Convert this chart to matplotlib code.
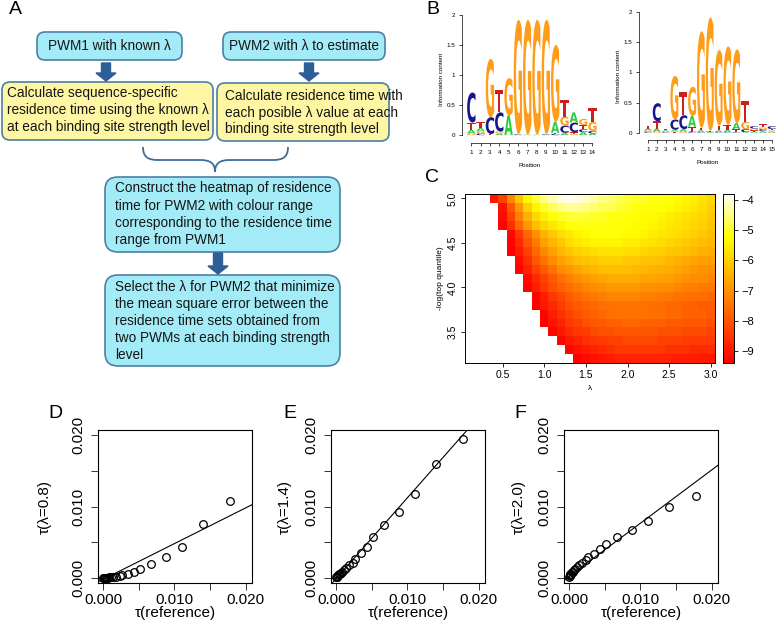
import numpy as np
import matplotlib
matplotlib.use('Agg')
import matplotlib.pyplot as plt
from matplotlib.patches import FancyBboxPatch, FancyArrow, PathPatch
from matplotlib.path import Path
from matplotlib.textpath import TextPath
from matplotlib.font_manager import FontProperties
from matplotlib.transforms import Affine2D
from matplotlib.colors import ListedColormap, hsv_to_rgb

W, H = 777, 632
nan = np.nan

# ---- panel B: sequence logos (information content per letter) ----
logo1_A = [0.06, 0.05, 0.00, 0.03, 0.33, 0.01, 0.01, 0.01, 0.01, 0.18, 0.04, 0.17, 0.05, 0.03]
logo1_C = [0.50, 0.03, 0.28, 0.32, 0.00, 0.01, 0.00, 0.00, 0.01, 0.02, 0.12, 0.16, 0.05, 0.04]
logo1_G = [0.03, 0.04, 0.97, 0.03, 0.62, 1.90, 1.91, 1.91, 1.90, 1.28, 0.15, 0.02, 0.10, 0.15]
logo1_T = [0.12, 0.10, 0.02, 0.38, 0.00, 0.00, 0.00, 0.00, 0.00, 0.02, 0.27, 0.03, 0.07, 0.23]

logo2_A = [0.03, 0.05, 0.02, 0.03, 0.04, 0.18, 0.03, 0.01, 0.03, 0.04, 0.10, 0.01, 0.02, 0.03, 0.02]
logo2_C = [0.02, 0.30, 0.01, 0.17, 0.23, 0.02, 0.01, 0.01, 0.01, 0.01, 0.01, 0.05, 0.04, 0.03, 0.05]
logo2_G = [0.02, 0.02, 0.01, 0.72, 0.02, 0.48, 1.60, 1.88, 1.25, 1.30, 1.22, 0.12, 0.03, 0.03, 0.02]
logo2_T = [0.05, 0.12, 0.02, 0.02, 0.38, 0.08, 0.04, 0.01, 0.08, 0.08, 0.05, 0.35, 0.02, 0.05, 0.02]

# ---- panel C: heatmap of log residence time, rows from -log q = 5.0 down to 3.2 ----
lam_grid = [round(0.1 * k, 1) for k in range(1, 31)]
q_grid = [5.0, 4.9, 4.8, 4.7, 4.6, 4.5, 4.4, 4.3, 4.2, 4.1, 4.0, 3.9, 3.8, 3.7, 3.6, 3.5, 3.4, 3.3, 3.2]
heat = [
    [nan]*3 + [-9.0, -8.3, -7.2, -6.2, -5.4, -4.9, -4.5, -4.2, -4.0, -3.9, -4.0, -4.1, -4.3, -4.5, -4.6, -4.8, -4.9, -5.0, -5.0, -5.1, -5.1, -5.2, -5.3, -5.4, -5.5, -5.7, -5.9],
    [nan]*4 + [-9.1, -8.0, -6.9, -6.0, -5.4, -5.0, -4.7, -4.5, -4.4, -4.4, -4.5, -4.6, -4.7, -4.8, -4.9, -5.0, -5.1, -5.1, -5.2, -5.2, -5.3, -5.4, -5.5, -5.6, -5.8, -6.0],
    [nan]*4 + [-9.2, -8.3, -7.3, -6.5, -5.9, -5.5, -5.2, -5.0, -4.9, -4.9, -4.9, -5.0, -5.0, -5.1, -5.1, -5.2, -5.2, -5.3, -5.3, -5.4, -5.5, -5.6, -5.7, -5.8, -5.9, -6.1],
    [nan]*4 + [-9.3, -8.6, -7.7, -6.9, -6.3, -5.9, -5.6, -5.4, -5.2, -5.1, -5.1, -5.1, -5.1, -5.1, -5.2, -5.2, -5.3, -5.3, -5.4, -5.5, -5.6, -5.7, -5.8, -5.9, -6.0, -6.2],
    [nan]*5 + [-9.2, -8.5, -7.7, -7.0, -6.5, -6.1, -5.8, -5.6, -5.4, -5.3, -5.2, -5.2, -5.2, -5.2, -5.3, -5.3, -5.4, -5.5, -5.6, -5.7, -5.8, -5.9, -6.0, -6.1, -6.3],
    [nan]*5 + [-9.3, -8.7, -8.0, -7.4, -6.8, -6.4, -6.1, -5.8, -5.6, -5.5, -5.4, -5.4, -5.4, -5.4, -5.5, -5.5, -5.6, -5.7, -5.8, -5.9, -6.0, -6.1, -6.2, -6.3, -6.4],
    [nan]*5 + [-9.4, -8.9, -8.3, -7.7, -7.2, -6.8, -6.4, -6.2, -6.0, -5.9, -5.8, -5.7, -5.7, -5.7, -5.8, -5.8, -5.9, -6.0, -6.0, -6.1, -6.2, -6.3, -6.4, -6.5, -6.6],
    [nan]*6 + [-9.2, -8.6, -8.0, -7.5, -7.1, -6.8, -6.5, -6.3, -6.2, -6.1, -6.0, -6.0, -6.0, -6.1, -6.1, -6.2, -6.2, -6.3, -6.4, -6.5, -6.6, -6.7, -6.8, -6.8],
    [nan]*6 + [-9.3, -8.8, -8.3, -7.9, -7.5, -7.1, -6.9, -6.7, -6.5, -6.4, -6.3, -6.3, -6.3, -6.3, -6.4, -6.4, -6.5, -6.5, -6.6, -6.7, -6.8, -6.9, -7.0, -7.0],
    [nan]*7 + [-9.2, -8.7, -8.3, -7.9, -7.6, -7.3, -7.1, -6.9, -6.8, -6.7, -6.6, -6.6, -6.6, -6.6, -6.7, -6.7, -6.8, -6.8, -6.9, -7.0, -7.1, -7.1, -7.2],
    [nan]*7 + [-9.3, -8.9, -8.5, -8.1, -7.8, -7.6, -7.4, -7.2, -7.1, -7.0, -6.9, -6.9, -6.9, -6.9, -7.0, -7.0, -7.1, -7.1, -7.2, -7.3, -7.3, -7.4, -7.4],
    [nan]*8 + [-9.3, -8.9, -8.5, -8.2, -7.9, -7.7, -7.5, -7.4, -7.3, -7.2, -7.2, -7.2, -7.2, -7.3, -7.3, -7.4, -7.4, -7.5, -7.5, -7.6, -7.6, -7.7],
    [nan]*8 + [-9.4, -9.0, -8.7, -8.4, -8.1, -7.9, -7.8, -7.7, -7.6, -7.5, -7.5, -7.5, -7.5, -7.5, -7.6, -7.6, -7.7, -7.7, -7.8, -7.8, -7.9, -7.9],
    [nan]*9 + [-9.3, -8.9, -8.6, -8.3, -8.1, -7.9, -7.8, -7.7, -7.6, -7.5, -7.5, -7.5, -7.5, -7.6, -7.6, -7.7, -7.7, -7.8, -7.8, -7.8, -7.9],
    [nan]*9 + [-9.4, -9.1, -8.8, -8.5, -8.3, -8.1, -8.0, -7.9, -7.8, -7.8, -7.7, -7.7, -7.8, -7.8, -7.8, -7.9, -7.9, -8.0, -8.0, -8.0, -8.1],
    [nan]*10 + [-9.3, -9.0, -8.7, -8.5, -8.4, -8.2, -8.1, -8.1, -8.0, -8.0, -8.0, -8.0, -8.0, -8.1, -8.1, -8.1, -8.2, -8.2, -8.2, -8.3],
    [nan]*11 + [-9.3, -9.0, -8.8, -8.6, -8.5, -8.4, -8.3, -8.3, -8.2, -8.2, -8.2, -8.2, -8.3, -8.3, -8.3, -8.4, -8.4, -8.4, -8.5],
    [nan]*12 + [-9.3, -9.1, -8.9, -8.8, -8.7, -8.6, -8.5, -8.5, -8.5, -8.5, -8.5, -8.5, -8.6, -8.6, -8.6, -8.7, -8.7, -8.7],
    [nan]*13 + [-9.4, -9.2, -9.1, -9.0, -8.9, -8.8, -8.8, -8.8, -8.8, -8.8, -8.8, -8.8, -8.9, -8.9, -8.9, -9.0, -9.0],
]

# ---- panels D-F: residence times ----
tau_ref = [0.0178, 0.0140, 0.0111, 0.0088, 0.0068, 0.0052, 0.0043, 0.0035, 0.0027, 0.0024, 0.0018,
           0.0014, 0.0011, 0.0009, 0.0007, 0.0005, 0.0004, 0.0003, 0.0002, 0.00015, 0.0001, 0.00005]
tau_08 = [0.0107, 0.0075, 0.0044, 0.0029, 0.0020, 0.0013, 0.0009, 0.0006, 0.0004, 0.0003, 0.0002,
          0.00015, 0.0001, 0.00008, 0.00006, 0.00004, 0.00003, 0.00002, 0.00001, 0.00001, 0.0, 0.0]
tau_14 = [0.0195, 0.0160, 0.0117, 0.0093, 0.0074, 0.0057, 0.0044, 0.0035, 0.0027, 0.0021, 0.0018,
          0.0014, 0.0011, 0.0009, 0.0007, 0.0006, 0.0005, 0.0004, 0.0003, 0.0002, 0.00015, 0.0001]
tau_20 = [0.0114, 0.0099, 0.0080, 0.0067, 0.0058, 0.0048, 0.0040, 0.0034, 0.0029, 0.0025, 0.0021,
          0.0018, 0.0015, 0.0013, 0.0011, 0.0009, 0.0008, 0.0006, 0.0005, 0.0004, 0.0003, 0.0002]
fit_08 = (-0.0002, 0.50)   # intercept, slope
fit_14 = (-0.0001, 1.13)
fit_20 = (0.0002, 0.745)

plt.rcParams['font.family'] = ['Liberation Sans', 'DejaVu Sans']


def px(l, t, r, b):
    return [l / W, 1 - b / H, (r - l) / W, (b - t) / H]


fig = plt.figure(figsize=(W / 100, H / 100), dpi=100)
fig.patch.set_facecolor('white')

# background axes in pixel coordinates for panel A and labels
ax0 = fig.add_axes([0, 0, 1, 1])
ax0.set_xlim(0, W)
ax0.set_ylim(H, 0)
ax0.axis('off')

cyan = '#a3ecf7'
yellow = '#fff6a3'
edge = '#4d7fa6'
arrow_col = '#2f5d96'


def box(l, t, r, b, fc, rad=8):
    ax0.add_patch(FancyBboxPatch((l, t), r - l, b - t, boxstyle='round,pad=0,rounding_size=%d' % rad,
                                 fc=fc, ec=edge, lw=1.2))


def down_arrow(x, y0, y1):
    ax0.add_patch(FancyArrow(x, y0, 0, y1 - y0, width=9, head_width=20, head_length=8,
                             length_includes_head=True, fc=arrow_col, ec=arrow_col))


box(37, 32, 182, 60, cyan)
box(223, 32, 385, 60, cyan)
box(2, 82, 213, 140, yellow)
box(217, 83, 389, 141, yellow)
box(105, 177, 340, 252, cyan, 13)
box(105, 275, 340, 366, cyan, 13)
down_arrow(106, 63, 81)
down_arrow(309, 63, 81)
down_arrow(218, 253, 274)

fs = 9.8
tc = '#151515'
ax0.text(109, 46, 'PWM1 with known λ', fontsize=fs, color=tc, ha='center', va='center')
ax0.text(304, 46, 'PWM2 with λ to estimate', fontsize=fs, color=tc, ha='center', va='center')
for txt, y in zip(['Calculate sequence-specific', 'residence time using the known λ',
                   'at each binding site strength level'], [93, 110, 127]):
    ax0.text(7, y, txt, fontsize=fs, color=tc, va='center')
for txt, y in zip(['Calculate residence time with', 'each posible λ value at each',
                   'binding site strength level'], [96, 113, 129]):
    ax0.text(225, y, txt, fontsize=fs, color=tc, va='center')
for txt, y in zip(['Construct the heatmap of residence', 'time for PWM2 with colour range',
                   'corresponding to the residence time', 'range from PWM1'], [188, 206, 223, 240]):
    ax0.text(115, y, txt, fontsize=fs, color=tc, va='center')
for txt, y in zip(['Select the λ for PWM2 that minimize', 'the mean square error between the',
                   'residence time sets obtained from', 'two PWMs at each binding strength', 'level'],
                  [287, 304, 321, 338, 355]):
    ax0.text(115, y, txt, fontsize=fs, color=tc, va='center')

# curly brace
verts = [(143, 147), (143, 157), (148, 160), (158, 160), (200, 160), (210, 160), (215, 163), (215, 172),
         (215, 163), (220, 160), (230, 160), (273, 160), (283, 160), (288, 157), (288, 147)]
codes = [Path.MOVETO, Path.CURVE4, Path.CURVE4, Path.CURVE4, Path.LINETO, Path.CURVE4, Path.CURVE4, Path.CURVE4,
         Path.CURVE4, Path.CURVE4, Path.CURVE4, Path.LINETO, Path.CURVE4, Path.CURVE4, Path.CURVE4]
ax0.add_patch(PathPatch(Path(verts, codes), fc='none', ec='#3f6d9c', lw=1.3))

for lab, x, y in [('A', 15, 10), ('B', 433, 9), ('C', 432, 178), ('D', 55, 413), ('E', 290, 413), ('F', 520, 413)]:
    ax0.text(x, y, lab, fontsize=14, ha='center', va='center', color='black')

# ---- sequence logos ----
letter_cols = {'A': '#2ecc40', 'C': '#17178c', 'G': '#ff9d1a', 'T': '#cc1f1f'}
logo_font = FontProperties(family='DejaVu Sans', weight='bold')


def draw_logo(ax, cols):
    n = len(cols['A'])
    for i in range(n):
        stack = sorted([(cols[l][i], l) for l in 'ACGT'])
        ybase = 0.0
        for h, l in stack:
            if h < 0.005:
                continue
            tp = TextPath((0, 0), l, size=1, prop=logo_font)
            bb = tp.get_extents()
            tr = Affine2D().translate(-bb.x0, -bb.y0).scale(0.9 / bb.width, h / bb.height) \
                .translate(i + 1 - 0.45, ybase)
            ax.add_patch(PathPatch(tr.transform_path(tp), fc=letter_cols[l], ec='none'))
            ybase += h
    ax.set_xticks(range(1, n + 1))
    ax.set_xticklabels([str(k) for k in range(1, n + 1)])
    ax.set_yticks([0, 0.5, 1, 1.5, 2])
    ax.set_yticklabels(['0', '0.5', '1', '1.5', '2'])
    for s in ['top', 'right']:
        ax.spines[s].set_visible(False)
    ax.spines['left'].set_bounds(0, 2)
    ax.spines['bottom'].set_bounds(1, n)
    for s in ['left', 'bottom']:
        ax.spines[s].set_linewidth(0.5)
    ax.tick_params(labelsize=4.5, length=2, width=0.5, pad=3)
    ax.set_ylabel('Information content', fontsize=4.5, labelpad=2)
    ax.set_xlabel('Position', fontsize=4.5, labelpad=6)
    ax.patch.set_alpha(0)


axl1 = fig.add_axes(px(462, 15, 598, 143))
axl1.set_xlim(0, 14.6)
axl1.set_ylim(-0.13, 2.0)
draw_logo(axl1, {'A': logo1_A, 'C': logo1_C, 'G': logo1_G, 'T': logo1_T})

axl2 = fig.add_axes(px(639, 12, 777, 140))
axl2.set_xlim(0, 15.6)
axl2.set_ylim(-0.12, 2.0)
draw_logo(axl2, {'A': logo2_A, 'C': logo2_C, 'G': logo2_G, 'T': logo2_T})

# ---- heatmap ----
nc = 100
j = nc // 4
i = nc - j
hsv_a = np.column_stack([np.linspace(0, 1 / 6, i), np.ones(i), np.ones(i)])
hsv_b = np.column_stack([np.full(j, 1 / 6), np.linspace(1 - 1 / (2 * j), 1 / (2 * j), j), np.ones(j)])
heat_cmap = ListedColormap(hsv_to_rgb(np.vstack([hsv_a, hsv_b])))
heat_cmap.set_bad('white')

axh = fig.add_axes(px(465, 194, 715, 363))
lam = np.array(lam_grid)
qv = np.array(q_grid)
x_edges = np.concatenate([lam - 0.05, [lam[-1] + 0.05]])
y_edges = np.concatenate([qv + 0.05, [qv[-1] - 0.05]])
mesh = axh.pcolormesh(x_edges, y_edges, np.ma.masked_invalid(np.array(heat)), cmap=heat_cmap,
                      vmin=-9.4, vmax=-3.8)
axh.set_xlim(0.05, 3.05)
axh.set_ylim(3.15, 5.05)
axh.set_xticks([0.5, 1.0, 1.5, 2.0, 2.5, 3.0])
axh.set_yticks([3.5, 4.0, 4.5, 5.0])
axh.tick_params(labelsize=7.5, length=3, width=0.6, pad=2)
for t in axh.get_yticklabels():
    t.set_rotation(90)
    t.set_va('center')
axh.set_xlabel('λ', fontsize=6, labelpad=4)
axh.set_ylabel('-log(top quantile)', fontsize=6, labelpad=3)
for s in axh.spines.values():
    s.set_linewidth(0.7)

cax = fig.add_axes(px(723, 194, 734, 363))
cb = fig.colorbar(mesh, cax=cax)
cb.set_ticks([-4, -5, -6, -7, -8, -9])
cb.ax.tick_params(labelsize=8, length=3, width=0.6, pad=2)
cb.outline.set_linewidth(0.7)

# ---- scatter panels ----
scatter_specs = [
    ((98, 430, 252, 583), tau_08, fit_08, 'τ(λ=0.8)', 45),
    ((331, 430, 485, 583), tau_14, fit_14, 'τ(λ=1.4)', 285),
    ((564, 430, 718, 583), tau_20, fit_20, 'τ(λ=2.0)', 519),
]
tick_vals = [0.0, 0.005, 0.010, 0.015, 0.020]
tick_labs = ['0.000', '', '0.010', '', '0.020']
for rect, yvals, fit, ylab, ylab_x in scatter_specs:
    ax = fig.add_axes(px(*rect))
    ax.plot(tau_ref, yvals, 'o', mfc='none', mec='black', ms=5.5, mew=0.9)
    ax.axline((0, fit[0]), slope=fit[1], color='black', lw=0.8)
    ax.set_xlim(-0.0007, 0.0209)
    ax.set_ylim(-0.0007, 0.0207)
    ax.set_xticks(tick_vals)
    ax.set_xticklabels(tick_labs)
    ax.set_yticks(tick_vals)
    ax.set_yticklabels(tick_labs)
    ax.tick_params(labelsize=11, length=5, width=0.7, color='#333333')
    ax.tick_params(axis='x', pad=2)
    ax.tick_params(axis='y', pad=4)
    for t in ax.get_yticklabels():
        t.set_rotation(90)
        t.set_va('center')
    for s in ax.spines.values():
        s.set_linewidth(0.8)
    cx = (rect[0] + rect[2]) / 2
    ax0.text(cx, 613, 'τ(reference)', fontsize=11, ha='center', va='center')
    ax0.text(ylab_x, 507, ylab, fontsize=11, ha='center', va='center', rotation=90)

fig.savefig('out.png', dpi=100)
